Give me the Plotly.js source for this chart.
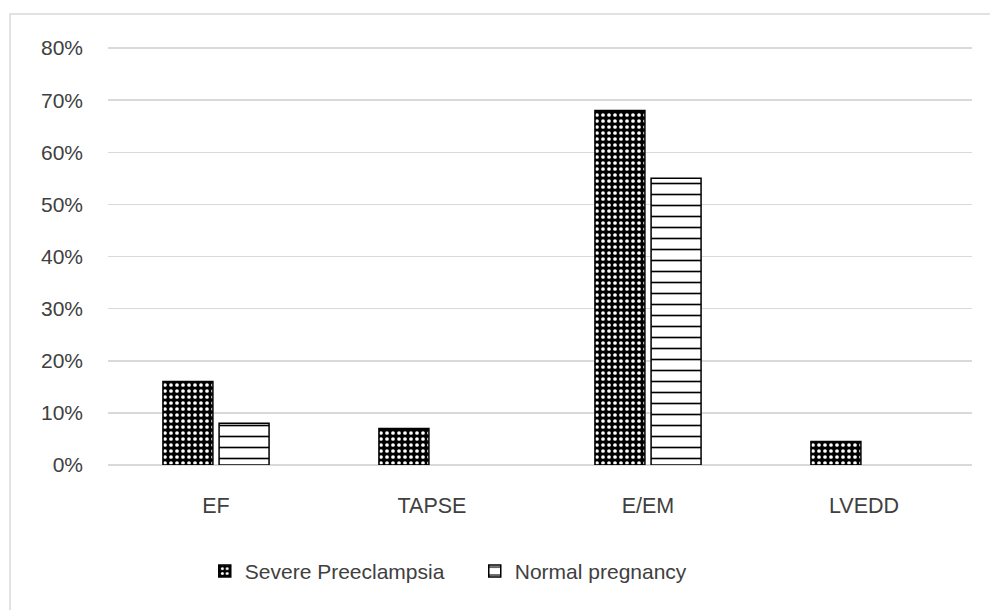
<!DOCTYPE html>
<html>
<head>
<meta charset="utf-8">
<script src="https://cdn.plot.ly/plotly-3.0.1.min.js"></script>
<style>html,body{margin:0;padding:0;background:#fff;}#chart{width:990px;height:610px;}</style>
</head>
<body>
<div id="chart"></div>
<script>
var categories = ["EF", "TAPSE", "E/EM", "LVEDD"];
var severeValues = [0.16, 0.07, 0.68, 0.045];
var normalValues = [0.08, 0, 0.55, 0];
var seriesNames = ["Severe Preeclampsia", "Normal pregnancy"];
var yTickValues = [0, 0.1, 0.2, 0.3, 0.4, 0.5, 0.6, 0.7, 0.8];

var FONT = "Liberation Sans, Arial, sans-serif";
var TXT = "#404040";

function outlineWidths(vals) {
  return vals.map(function (v) { return v > 0 ? 1.5 : 0; });
}

var traces = [
  {
    type: "bar", name: seriesNames[0], x: categories, y: severeValues,
    marker: {
      color: "black",
      line: {color: "black", width: outlineWidths(severeValues)},
      pattern: {shape: ".", bgcolor: "black", fgcolor: "white", size: 6, solidity: 0.3}
    },
    hoverinfo: "skip"
  },
  {
    type: "bar", name: seriesNames[1], x: categories, y: normalValues,
    marker: {
      color: "white",
      line: {color: "black", width: outlineWidths(normalValues)},
      pattern: {shape: "-", bgcolor: "white", fgcolor: "black", size: 11, solidity: 0.15}
    },
    hoverinfo: "skip"
  }
];

var layout = {
  width: 990, height: 610,
  margin: {l: 108, r: 18, t: 46, b: 145},
  paper_bgcolor: "white", plot_bgcolor: "white",
  font: {family: FONT, size: 20, color: TXT},
  barmode: "group",
  bargap: 0.48,
  bargroupgap: 0.11,
  showlegend: true,
  legend: {
    orientation: "h", x: 0.112, xanchor: "left", y: -0.254, yanchor: "middle",
    font: {family: FONT, size: 21, color: TXT},
    entrywidth: 225, entrywidthmode: "pixels",
    traceorder: "normal"
  },
  xaxis: {
    type: "category",
    showgrid: false, zeroline: false, showline: false, ticks: "",
    tickfont: {family: FONT, size: 21.5, color: TXT},
    ticklabelstandoff: 25
  },
  yaxis: {
    range: [0, 0.804], tickvals: yTickValues, tickformat: ".0%",
    showgrid: true, gridcolor: "#d9d9d9", gridwidth: 1.5,
    zeroline: true, zerolinecolor: "#d9d9d9", zerolinewidth: 1.5,
    showline: false, ticks: "",
    tickfont: {family: FONT, size: 21, color: TXT},
    ticklabelstandoff: 24
  },
  shapes: [
    {type: "rect", xref: "paper", yref: "paper",
     x0: -0.1134, x1: 1.2, y0: -0.6, y1: 1.0764,
     line: {color: "#d9d9d9", width: 1.5}, fillcolor: "rgba(0,0,0,0)", layer: "below"}
  ]
};

Plotly.newPlot("chart", traces, layout, {staticPlot: true, displayModeBar: false});
</script>
</body>
</html>
